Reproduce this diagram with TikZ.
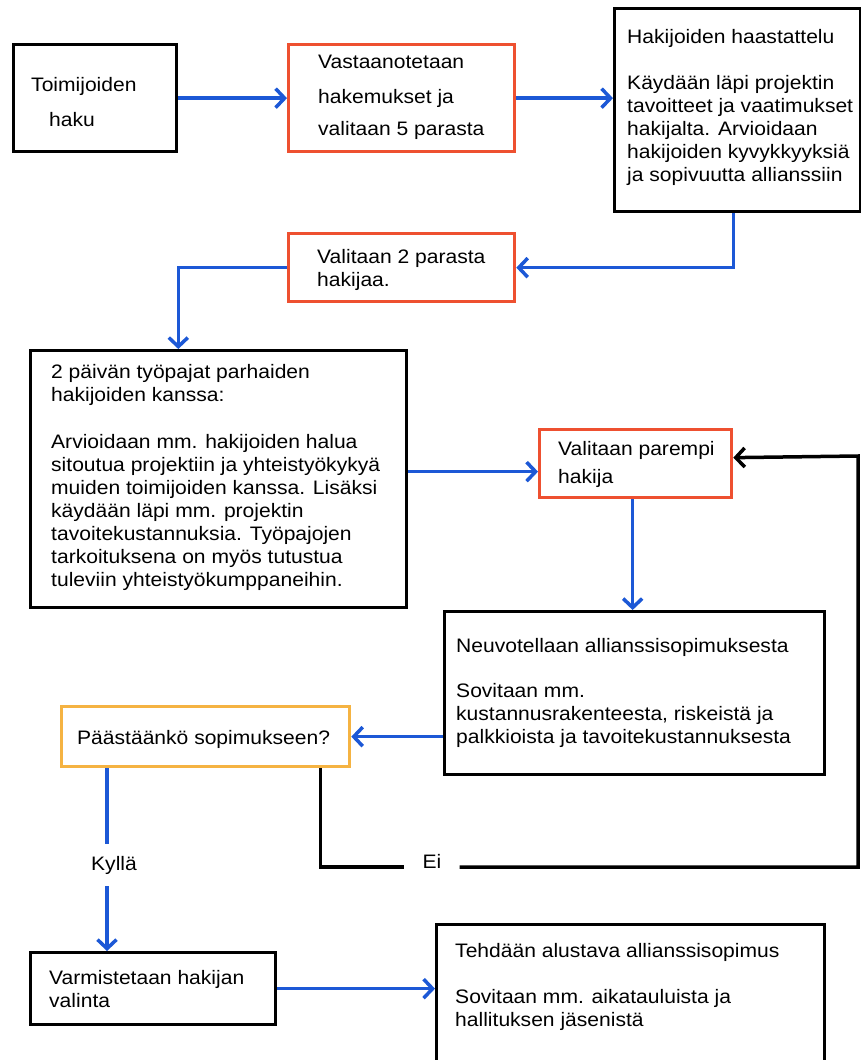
\documentclass[tikz,border=0pt]{standalone}
\usepackage{fontspec}
\setmainfont{Liberation Sans}[FakeStretch=1.08]
\usetikzlibrary{arrows.meta,calc}
\definecolor{rbox}{RGB}{238,80,48}
\definecolor{ybox}{RGB}{245,179,66}
\definecolor{barr}{RGB}{28,88,214}
\tikzset{
  bx/.style={draw=#1, line width=3.3pt, fill=white, anchor=north west, inner sep=0pt},
  txt/.style={anchor=north west, inner sep=0pt, align=left, font=\fontsize{19.5}{23}\selectfont},
  lbl/.style={inner sep=0pt, font=\fontsize{19.5}{23}\selectfont},
  bline/.style={draw=barr, line width=3.5pt},
  barrow/.style={bline, -{Straight Barb[length=9pt,width=19pt]}},
  kline/.style={draw=black, line width=3.5pt},
  karrow/.style={kline, -{Straight Barb[length=9pt,width=19pt]}},
}
\newcommand\fl{\rule{0pt}{19pt}}
\begin{document}
\begin{tikzpicture}[x=1pt,y=-1pt]
\useasboundingbox (0,0) rectangle (861,1060);
\fill[white] (0,0) rectangle (861,1060);
\clip (0,0) rectangle (861,1060);
% boxes
\node[bx=black, minimum width=163, minimum height=107] (b1) at (12,43) {};
\node[bx=rbox, minimum width=226, minimum height=107] (b2) at (287,43) {};
\node[bx=black, minimum width=246, minimum height=203] (b3) at (613,7) {};
\node[bx=rbox, minimum width=226, minimum height=68] (b4) at (287,232) {};
\node[bx=black, minimum width=376, minimum height=257] (b5) at (29,349) {};
\node[bx=rbox, minimum width=192, minimum height=68] (b6) at (538,428) {};
\node[bx=black, minimum width=380, minimum height=163] (b8) at (443,610) {};
\node[bx=ybox, minimum width=288, minimum height=60] (b7) at (60,705) {};
\node[bx=black, minimum width=245, minimum height=72] (b9) at (29,951) {};
\node[bx=black, minimum width=388, minimum height=152] (b10) at (435,923) {};
% texts
\node[txt] (t1a) at (31,72) {\fl Toimijoiden};
\node[txt] (t1b) at (49,107) {\fl haku};
\node[txt] (t2) at (318,49) {\fl Vastaanotetaan\\[12pt]hakemukset ja\\[9pt]valitaan 5 parasta};
\node[txt] (t3) at (627,24) {\fl Hakijoiden haastattelu\\[23pt]Käydään läpi projektin\\tavoitteet ja vaatimukset\\hakijalta. Arvioidaan\\hakijoiden kyvykkyyksiä\\ja sopivuutta allianssiin};
\node[txt] (t4) at (317,244) {\fl Valitaan 2 parasta\\hakijaa.};
\node[txt] (t5) at (51,359) {\fl 2 päivän työpajat parhaiden\\hakijoiden kanssa:\\[24pt]Arvioidaan mm. hakijoiden halua\\sitoutua projektiin ja yhteistyökykyä\\muiden toimijoiden kanssa. Lisäksi\\käydään läpi mm. projektin\\tavoitekustannuksia. Työpajojen\\tarkoituksena on myös tutustua\\tuleviin yhteistyökumppaneihin.};
\node[txt] (t6) at (558,436) {\fl Valitaan parempi\\[5pt]hakija};
\node[txt] (t8) at (456,633) {\fl Neuvotellaan allianssisopimuksesta\\[22pt]Sovitaan mm.\\kustannusrakenteesta, riskeistä ja\\palkkioista ja tavoitekustannuksesta};
\node[txt] (t7) at (77,725) {\fl Päästäänkö sopimukseen?};
\node[txt] (t9) at (49,965) {\fl Varmistetaan hakijan\\valinta};
\node[txt] (t10) at (455,938) {\fl Tehdään alustava allianssisopimus\\[23pt]Sovitaan mm. aikatauluista ja\\hallituksen jäsenistä};
% labels
\node[lbl, minimum height=42] (kyl) at (114,865) {Kyllä};
\node[lbl, minimum width=55, minimum height=20] (ei) at (432,861) {Ei};
\coordinate (rc) at (858,456);
% connectors
\draw[barrow] (b1.east) -- (b2.west);
\draw[barrow] (b2.east) -- (b2.east -| b3.west);
\draw[barrow] ([xshift=-4pt]b3.south) |- (b4.east);
\draw[barrow] (b4.west) -| (b5.north -| b1.east);
\draw[barrow] ([yshift=7.5pt]b5.east) -- ([yshift=7.5pt]b5.east -| b6.west);
\draw[barrow] ([xshift=-3pt]b6.south) -- ([xshift=-3pt]b6.south |- b8.north);
\draw[barrow] (b8.west |- b7.east) -- (b7.east);
\draw[bline] ([xshift=-7pt]kyl.north |- b7.south) -- ([xshift=-7pt]kyl.north);
\draw[barrow] ([xshift=-7pt]kyl.south) -- ([xshift=-7pt]kyl.south |- b9.north);
\draw[barrow] (b9.east) -- (b9.east -| b10.west);
\draw[kline] ([xshift=-31pt]b7.south east) |- ([yshift=-6pt]ei.west);
\draw[karrow] ([yshift=-6pt]ei.east) -| (rc) -- ([yshift=6pt]b6.east);
\end{tikzpicture}
\end{document}
